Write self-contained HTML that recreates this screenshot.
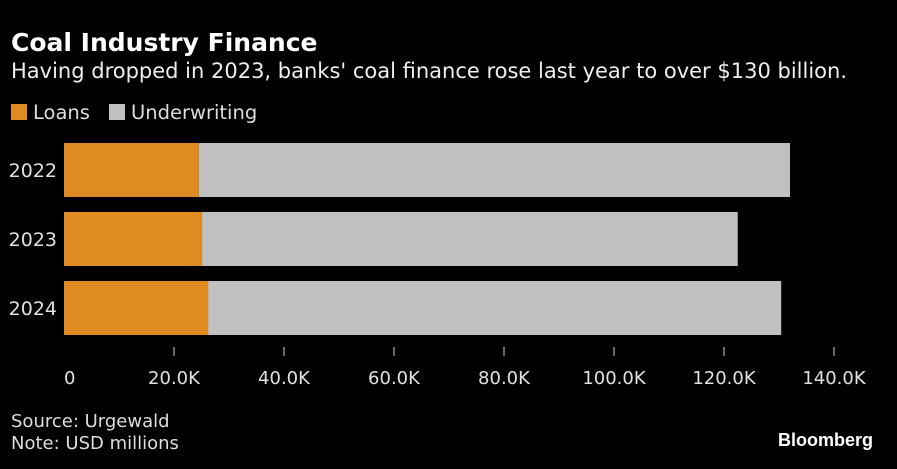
<!DOCTYPE html>
<html><head><meta charset="utf-8"><style>
body{margin:0;background:#000;width:897px;height:469px;overflow:hidden;font-family:"Liberation Sans","DejaVu Sans",sans-serif;color:#e6e6e6}
#title{position:absolute;left:11px;top:28px;font-family:"DejaVu Sans",sans-serif;font-weight:bold;font-size:25px;color:#fff}
#sub{position:absolute;left:11px;top:59px;font-family:"DejaVu Sans",sans-serif;font-size:21px;color:#eee;white-space:nowrap}
.leg{position:absolute;top:101px;font-family:"DejaVu Sans",sans-serif;font-size:19.5px;color:#ddd}
.sw{display:inline-block;width:16px;height:16px;margin-right:6px;vertical-align:-1px}
.foot{position:absolute;left:11px;font-family:"DejaVu Sans",sans-serif;font-size:18px;color:#ddd}
#bb{position:absolute;right:24px;top:430px;font-weight:bold;font-size:18px;color:#fff}
</style></head><body>
<div id="title">Coal Industry Finance</div>
<div id="sub">Having dropped in 2023, banks' coal finance rose last year to over $130 billion.</div>
<div class="leg" style="left:11px"><span class="sw" style="background:#e08b22"></span>Loans</div>
<div class="leg" style="left:109px"><span class="sw" style="background:#c0c0c0"></span>Underwriting</div>
<svg id="chart" width="897" height="469" style="position:absolute;left:0;top:0"></svg>
<div class="foot" style="top:411px">Source: Urgewald</div>
<div class="foot" style="top:433px">Note: USD millions</div>
<div id="bb">Bloomberg</div>
<script>
const categories=["2022","2023","2024"];
const loans=[24.5,25.1,26.2];
const underwriting=[107.5,97.4,104.2];
const ticks=[0,20,40,60,80,100,120,140];
const tickLabels=["0","20.0K","40.0K","60.0K","80.0K","100.0K","120.0K","140.0K"];
const svg=document.getElementById('chart');
const NS="http://www.w3.org/2000/svg";
const x=v=>64+v*5.5;
const y=i=>143+i*69;
function mk(t,a){const e=document.createElementNS(NS,t);for(const k in a)e.setAttribute(k,a[k]);svg.appendChild(e);return e;}
categories.forEach((c,i)=>{
 const r1=mk('rect',{x:x(0),y:y(i),width:x(loans[i])-x(0),height:54,fill:'#e08b22'});
 
 
 const r2=mk('rect',{x:x(loans[i]),y:y(i),width:x(loans[i]+underwriting[i])-x(loans[i]),height:54,fill:'#c0c0c0'});
 
 
 const t=mk('text',{x:57,y:y(i)+34,'text-anchor':'end',fill:'#e0e0e0','font-size':'19','font-family':'DejaVu Sans, sans-serif'});
 t.textContent=c;
 
 
});
ticks.forEach((v,i)=>{
 if(i>0){const l=mk('line',{x1:x(v),x2:x(v),y1:347,y2:356,stroke:'#ccc','stroke-width':1});
 
 }
 const t=mk('text',{x:i==0?64:x(v),y:384,'text-anchor':i==0?'start':'middle',fill:'#e0e0e0','font-size':'18','font-family':'DejaVu Sans, sans-serif'});
 t.textContent=tickLabels[i];
 
 
});
</script>
</body></html>
